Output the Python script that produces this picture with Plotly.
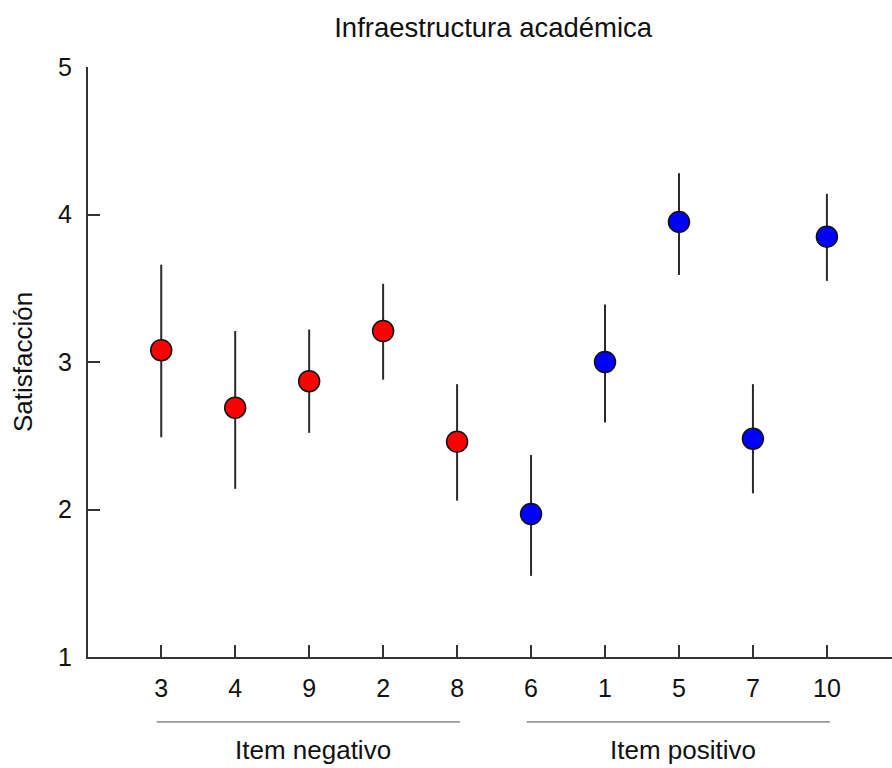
import plotly.graph_objects as go

# Data
neg_items = ["3", "4", "9", "2", "8"]
neg_mean = [3.08, 2.69, 2.87, 3.21, 2.46]
neg_upper = [3.66, 3.21, 3.22, 3.53, 2.85]
neg_lower = [2.49, 2.14, 2.52, 2.88, 2.06]

pos_items = ["6", "1", "5", "7", "10"]
pos_mean = [1.97, 3.00, 3.95, 2.48, 3.85]
pos_upper = [2.37, 3.39, 4.28, 2.85, 4.14]
pos_lower = [1.55, 2.59, 3.59, 2.11, 3.55]

categories = neg_items + pos_items
group_labels = ["Item negativo", "Item positivo"]
y_ticks = [1, 2, 3, 4, 5]

FONT = "Liberation Sans, Arial, sans-serif"
AX = "#333333"

fig = go.Figure()


def add_series(items, mean, upper, lower, color):
    fig.add_trace(go.Scatter(
        x=items, y=mean, mode="markers",
        marker=dict(size=21, color=color, line=dict(color="#111111", width=1.5)),
        error_y=dict(type="data", symmetric=False,
                     array=[u - m for u, m in zip(upper, mean)],
                     arrayminus=[m - l for m, l in zip(mean, lower)],
                     color="#2a2a2a", thickness=2, width=0),
        showlegend=False, hoverinfo="x+y",
    ))


add_series(neg_items, neg_mean, neg_upper, neg_lower, "#FF0000")
add_series(pos_items, pos_mean, pos_upper, pos_lower, "#0000FF")

# group brackets under the axis
groups = [(neg_items, group_labels[0]), (pos_items, group_labels[1])]
for items, label in groups:
    i0 = categories.index(items[0])
    i1 = categories.index(items[-1])
    fig.add_shape(type="line", xref="x", yref="paper",
                  x0=i0 - 0.06, x1=i1 + 0.04, y0=-0.110, y1=-0.110,
                  line=dict(color="#999999", width=1.8))
    fig.add_annotation(xref="x", yref="paper", x=(i0 + i1) / 2 + 0.05, y=-0.158,
                       text=label, showarrow=False, yanchor="middle",
                       font=dict(family=FONT, size=26, color="#111111"))

fig.update_layout(
    width=892, height=768,
    margin=dict(l=88, r=0, t=67, b=111),
    paper_bgcolor="white", plot_bgcolor="white",
    font=dict(family=FONT, color="#111111"),
    title=dict(text="Infraestructura académica", xref="paper", x=0.504, xanchor="center",
               yref="container", y=1 - 27 / 768, yanchor="middle",
               font=dict(family=FONT, size=27.5, color="#111111")),
    xaxis=dict(type="category", categoryorder="array", categoryarray=categories,
               range=[-0.99, 9.88], showgrid=False, zeroline=False,
               showline=True, linecolor=AX, linewidth=2,
               ticks="inside", ticklen=12, tickwidth=2, tickcolor=AX,
               tickfont=dict(family=FONT, size=25, color="#111111"),
               ticklabelstandoff=8, fixedrange=True),
    yaxis=dict(range=[1, 5], tickvals=y_ticks, showgrid=False, zeroline=False,
               showline=True, linecolor=AX, linewidth=2,
               ticks="inside", ticklen=12, tickwidth=2, tickcolor=AX,
               tickfont=dict(family=FONT, size=25, color="#111111"),
               ticklabelstandoff=9,
               title=dict(text="Satisfacción", standoff=18,
                          font=dict(family=FONT, size=26, color="#111111")),
               automargin=False, fixedrange=True),
)

fig.write_html(
    "out.html",
    config={"displayModeBar": False},
    post_script="document.body.style.margin='0';document.body.style.overflow='hidden';",
)
